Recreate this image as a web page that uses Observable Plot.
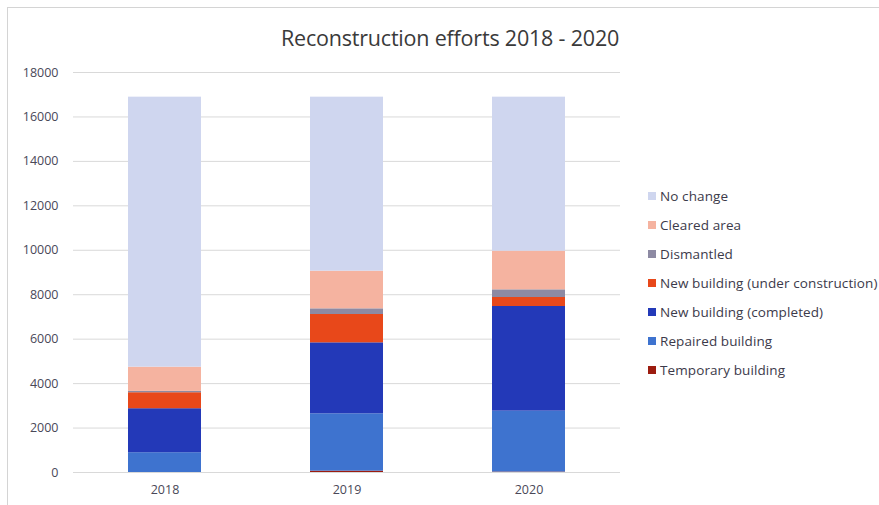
<!DOCTYPE html>
<html>
<head>
<meta charset="utf-8">
<script src="https://cdn.jsdelivr.net/npm/d3@7"></script>
<script src="https://cdn.jsdelivr.net/npm/@observablehq/plot@0.6"></script>
<style>
  html, body { margin: 0; padding: 0; background: #fff; width: 879px; height: 505px; overflow: hidden; }
  #frame { position: absolute; left: 7px; top: 7px; width: 900px; height: 520px; border: 1px solid #d4d4d4; box-sizing: border-box; }
  #chart { position: absolute; left: 0; top: 0; }
  #title { position: absolute; left: 0; top: 23px; width: 900px; text-align: center; font-family: "Open Sans", sans-serif; font-size: 21.5px; color: #3a3a3a; letter-spacing: -0.2px; }
  #legend { position: absolute; left: 648px; top: 182px; font-family: "Open Sans", sans-serif; font-size: 13.5px; color: #3c3a4a; letter-spacing: 0.1px; }
  .item { height: 28.9px; display: flex; align-items: center; white-space: nowrap; }
  .sw { width: 8px; height: 8px; margin-right: 4px; flex: none; }
</style>
</head>
<body>
<div id="frame"></div>
<div id="title">Reconstruction efforts 2018 - 2020</div>
<div id="chart"></div>
<div id="legend"></div>
<script>
const years = ["2018", "2019", "2020"];
const categories = ["Temporary building", "Repaired building", "New building (completed)", "New building (under construction)", "Dismantled", "Cleared area", "No change"];
const temporary = [0, 60, 20];
const repaired = [890, 2580, 2740];
const completed = [1980, 3195, 4710];
const underConstruction = [720, 1275, 405];
const dismantled = [60, 255, 345];
const cleared = [1090, 1695, 1740];
const noChange = [12150, 7830, 6930];
const colors = ["#9c1c0f", "#3e73cf", "#2339b8", "#e8481a", "#8d8aa3", "#f5b3a0", "#cfd6ef"];
const yTicks = [0, 2000, 4000, 6000, 8000, 10000, 12000, 14000, 16000, 18000];

const series = [temporary, repaired, completed, underConstruction, dismantled, cleared, noChange];
const rows = [];
categories.forEach((c, i) => years.forEach((y, j) => rows.push({year: y, category: c, value: series[i][j]})));

const plot = Plot.plot({
  width: 879,
  height: 505,
  marginLeft: 73,
  marginRight: 259,
  marginTop: 72,
  marginBottom: 33,
  style: {fontFamily: "Open Sans, sans-serif", fontSize: "12.5px", color: "#4a4858", background: "transparent"},
  x: {domain: years, paddingInner: 0.6, paddingOuter: 0.3, label: null, tickSize: 0, tickPadding: 13},
  y: {domain: [0, 18000], ticks: yTicks, tickFormat: "d", label: null, tickSize: 0, tickPadding: 15},
  color: {domain: categories, range: colors},
  marks: [
    Plot.ruleY(yTicks, {stroke: "#d9d9d9", strokeWidth: 1}),
    Plot.barY(rows, {x: "year", y: "value", fill: "category"}),
    Plot.axisX({tickSize: 0, tickPadding: 13, label: null}),
    Plot.axisY({ticks: yTicks, tickFormat: "d", tickSize: 0, tickPadding: 15, label: null})
  ]
});
document.getElementById("chart").appendChild(plot);

const color = plot.scale("color");
const legend = document.getElementById("legend");
categories.slice().reverse().forEach(c => {
  const idx = color.domain.indexOf(c);
  const item = document.createElement("div");
  item.className = "item";
  const sw = document.createElement("span");
  sw.className = "sw";
  sw.style.background = color.range[idx];
  const t = document.createElement("span");
  t.textContent = c;
  item.appendChild(sw);
  item.appendChild(t);
  legend.appendChild(item);
});
</script>
</body>
</html>
